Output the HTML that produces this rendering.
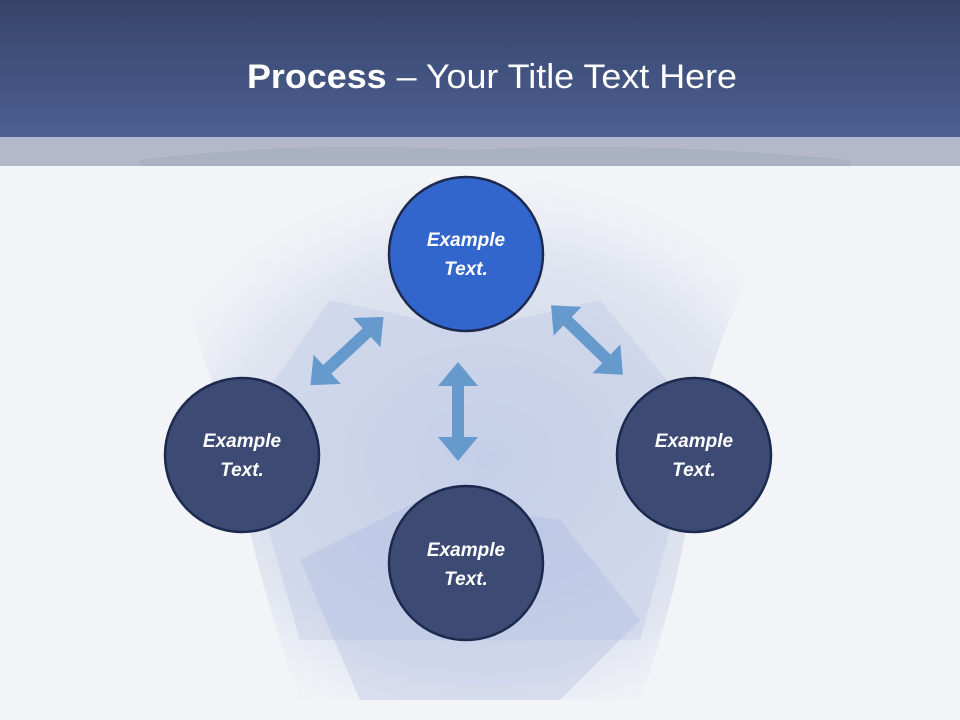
<!DOCTYPE html>
<html><head><meta charset="utf-8"><style>
html,body{margin:0;padding:0;width:960px;height:720px;overflow:hidden;background:#f2f4f7}
</style></head><body>
<svg width="960" height="720" viewBox="0 0 960 720" xmlns="http://www.w3.org/2000/svg">
<defs>
<linearGradient id="hd" x1="0" y1="0" x2="0" y2="1">
<stop offset="0" stop-color="#364468"/><stop offset="1" stop-color="#4d5f94"/>
</linearGradient>
<radialGradient id="blob" cx="0.5" cy="0.55" r="0.55">
<stop offset="0" stop-color="#c3cde8" stop-opacity="0.8"/>
<stop offset="0.7" stop-color="#d3d9ea" stop-opacity="0.6"/>
<stop offset="1" stop-color="#e8ecf4" stop-opacity="0"/>
</radialGradient>
</defs>
<rect width="960" height="720" fill="#f2f4f7"/>
<path d="M150 170 Q300 150 470 190 Q650 170 820 170 Q720 300 700 420 Q690 560 640 700 L300 700 Q250 560 230 430 Q180 300 150 170Z" fill="url(#blob)"/>
<path d="M240 430 L330 300 L470 330 L600 300 L700 420 L640 640 L300 640Z" fill="#b3bfe0" opacity="0.3"/>
<path d="M300 560 L420 500 L560 520 L640 620 L560 700 L360 700Z" fill="#9aaadb" opacity="0.25"/>
<rect x="0" y="0" width="960" height="137" fill="url(#hd)"/>
<rect x="0" y="137" width="960" height="29" fill="#b3b9c9"/>
<path d="M140 160 Q300 140 470 150 Q640 140 850 160 L850 166 L140 166Z" fill="#a3abc0" opacity="0.6"/>
<text x="492" y="88" text-anchor="middle" textLength="490" lengthAdjust="spacingAndGlyphs" font-family="Liberation Sans, sans-serif" font-size="34" fill="#fff"><tspan font-weight="bold">Process</tspan> – Your Title Text Here</text>
<g fill="#6699cc">
<polygon points="458,362 478,386 464,386 464,437 478,437 458,461 438,437 452,437 452,386 438,386"/>
<g transform="translate(347,351) rotate(-43)">
<polygon points="-50,0 -27,-20 -27,-6 27,-6 27,-20 50,0 27,20 27,6 -27,6 -27,20"/>
</g>
<g transform="translate(587,340) rotate(44)">
<polygon points="-50,0 -27,-20 -27,-6 27,-6 27,-20 50,0 27,20 27,6 -27,6 -27,20"/>
</g>
</g>
<g stroke="#1d2a4f" stroke-width="2.5">
<circle cx="466" cy="254" r="77" fill="#3366cc"/>
<circle cx="242" cy="455" r="77" fill="#3d4a73"/>
<circle cx="694" cy="455" r="77" fill="#3d4a73"/>
<circle cx="466" cy="563" r="77" fill="#3d4a73"/>
</g>
<g font-family="Liberation Sans, sans-serif" font-size="19" font-weight="bold" font-style="italic" fill="#fff" text-anchor="middle">
<text x="466" y="246">Example</text><text x="466" y="275">Text.</text>
<text x="242" y="447">Example</text><text x="242" y="476">Text.</text>
<text x="694" y="447">Example</text><text x="694" y="476">Text.</text>
<text x="466" y="556">Example</text><text x="466" y="585">Text.</text>
</g>
</svg>
</body></html>
